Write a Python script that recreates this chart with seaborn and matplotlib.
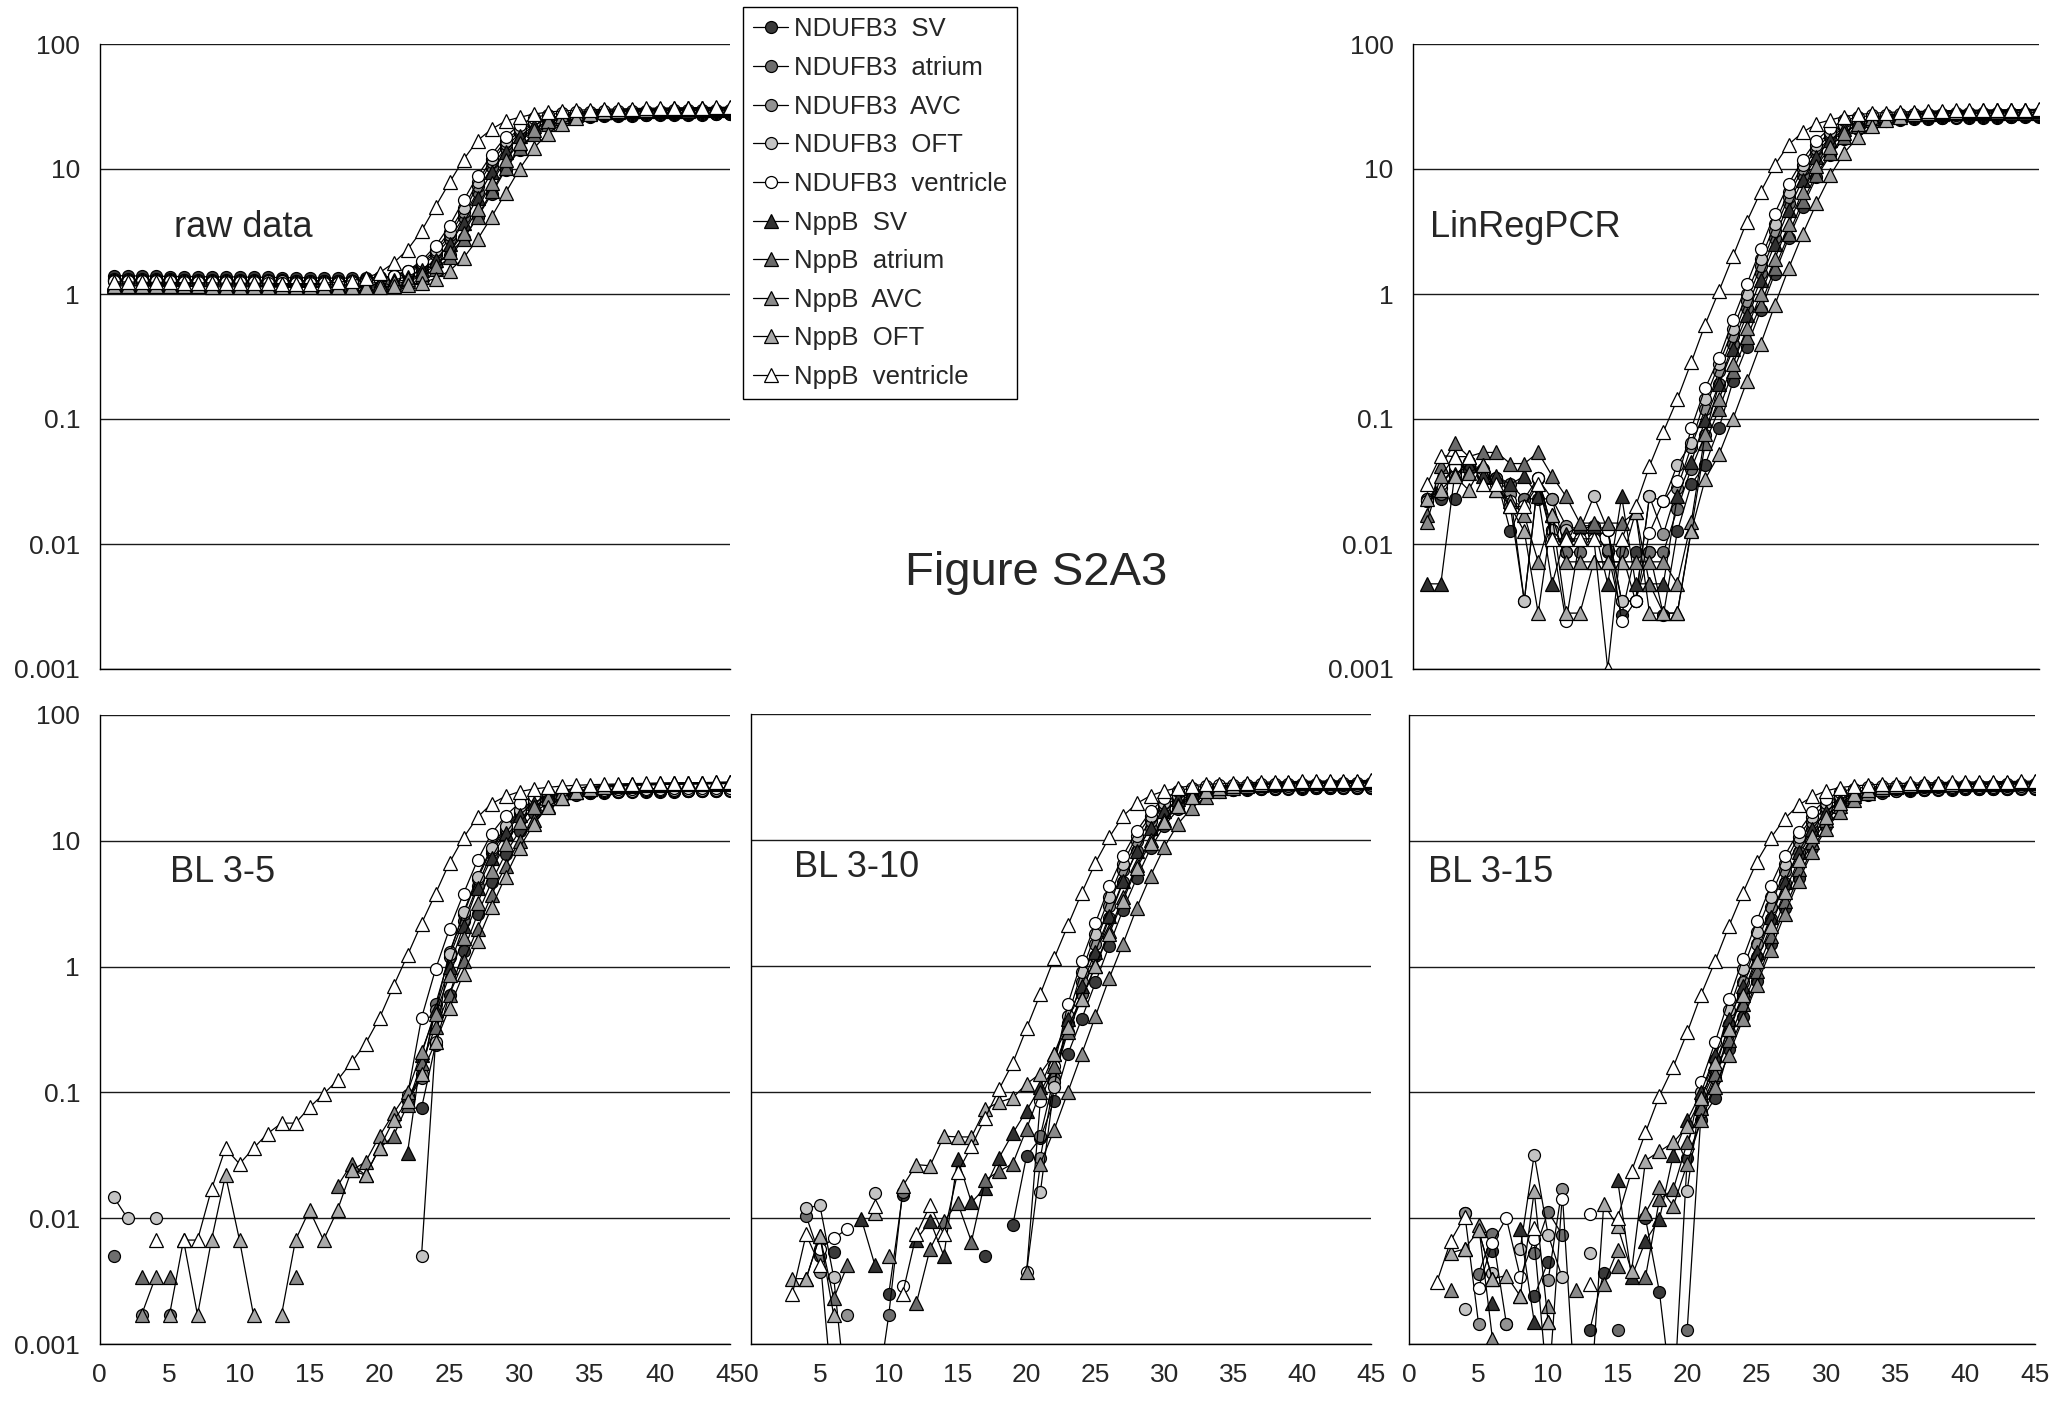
import numpy as np
import pandas as pd
import matplotlib
matplotlib.use("Agg")
import matplotlib.pyplot as plt
from matplotlib.lines import Line2D
import seaborn as sns

N = None
CYCLES = list(range(1, 46))
SERIES_LABELS = ["NDUFB3  SV", "NDUFB3  atrium", "NDUFB3  AVC", "NDUFB3  OFT", "NDUFB3  ventricle",
                 "NppB  SV", "NppB  atrium", "NppB  AVC", "NppB  OFT", "NppB  ventricle"]
PANEL_LABELS = ["raw data", "LinRegPCR", "BL 3-5", "BL 3-10", "BL 3-15"]
FIG_TITLE = "Figure S2A3"
Y_TICKS = [0.001, 0.01, 0.1, 1, 10, 100]
Y_TICK_LABELS = ["0.001", "0.01", "0.1", "1", "10", "100"]
X_TICKS = [0, 5, 10, 15, 20, 25, 30, 35, 40, 45]

# ---------------- raw data ----------------
RAW_NDUFB3_SV = [1.40,1.40,1.39,1.39,1.38,1.38,1.38,1.37,1.37,1.37,
                 1.36,1.36,1.35,1.35,1.35,1.34,1.34,1.34,1.35,1.36,
                 1.38,1.42,1.53,1.72,2.07,2.8,4.1,6.3,9.9,14.3,
                 18.8,22.3,24.3,25.5,26.1,26.4,26.6,26.7,26.8,26.9,
                 27.0,27.1,27.2,27.3,27.3]
RAW_NDUFB3_atrium = [1.32,1.32,1.31,1.31,1.31,1.30,1.30,1.30,1.30,1.29,
                     1.29,1.29,1.29,1.28,1.28,1.28,1.28,1.28,1.30,1.32,
                     1.36,1.47,1.68,2.05,2.75,4.1,6.6,10.3,14.8,19.3,
                     22.8,24.8,25.8,26.3,26.6,26.8,27.0,27.1,27.2,27.3,
                     27.4,27.5,27.6,27.7,27.7]
RAW_NDUFB3_AVC = [1.30,1.30,1.30,1.29,1.29,1.29,1.28,1.28,1.28,1.28,
                  1.28,1.27,1.27,1.27,1.27,1.27,1.27,1.28,1.30,1.33,
                  1.39,1.51,1.73,2.15,2.94,4.5,7.3,11.3,15.8,20.3,
                  23.3,25.3,26.3,26.8,27.1,27.3,27.4,27.5,27.6,27.7,
                  27.8,27.9,28.0,28.1,28.1]
RAW_NDUFB3_OFT = [1.28,1.28,1.28,1.27,1.27,1.27,1.27,1.26,1.26,1.26,
                  1.26,1.26,1.26,1.25,1.25,1.25,1.25,1.27,1.29,1.32,
                  1.40,1.53,1.78,2.25,3.15,4.85,7.85,12.0,16.8,21.0,
                  23.8,25.6,26.6,27.3,27.6,27.8,27.9,28.0,28.1,28.2,
                  28.3,28.4,28.5,28.6,28.6]
RAW_NDUFB3_ventricle = [1.27,1.27,1.26,1.26,1.26,1.25,1.25,1.25,1.24,1.24,
                        1.24,1.23,1.23,1.23,1.22,1.22,1.23,1.24,1.26,1.30,
                        1.40,1.53,1.84,2.42,3.52,5.6,8.8,13.0,18.1,22.6,
                        25.7,27.2,28.0,28.4,28.7,28.9,29.0,29.1,29.2,29.3,
                        29.4,29.5,29.6,29.7,29.7]
RAW_NppB_SV = [1.22,1.22,1.22,1.21,1.21,1.21,1.21,1.20,1.20,1.20,
               1.20,1.20,1.19,1.19,1.19,1.19,1.19,1.20,1.21,1.24,
               1.29,1.38,1.55,1.87,2.5,3.7,5.9,9.4,13.7,18.2,
               22.2,25.2,26.7,27.7,28.2,28.5,28.7,28.9,29.0,29.1,
               29.2,29.3,29.4,29.5,29.5]
RAW_NppB_atrium = [1.18,1.18,1.17,1.17,1.17,1.17,1.16,1.16,1.16,1.16,
                   1.15,1.15,1.15,1.15,1.15,1.14,1.14,1.14,1.15,1.17,
                   1.20,1.26,1.38,1.59,1.96,2.74,4.14,6.64,10.1,14.6,
                   19.1,23.1,25.6,27.2,28.2,28.7,29.0,29.2,29.4,29.6,
                   29.8,30.0,30.1,30.2,30.3]
RAW_NppB_AVC = [1.20,1.20,1.20,1.19,1.19,1.19,1.18,1.18,1.18,1.18,
                1.17,1.17,1.17,1.17,1.16,1.16,1.16,1.17,1.18,1.20,
                1.24,1.31,1.44,1.69,2.16,3.06,4.76,7.76,11.7,16.2,
                20.7,24.2,26.7,28.2,29.0,29.4,29.7,29.9,30.1,30.3,
                30.5,30.6,30.7,30.8,30.9]
RAW_NppB_OFT = [1.16,1.16,1.16,1.15,1.15,1.15,1.15,1.14,1.14,1.14,
                1.14,1.14,1.13,1.13,1.13,1.13,1.13,1.13,1.13,1.14,
                1.16,1.18,1.23,1.33,1.53,1.94,2.73,4.13,6.43,10.0,
                14.6,19.1,23.1,25.6,27.4,28.4,29.1,29.5,29.8,30.1,
                30.3,30.5,30.6,30.7,30.8]
RAW_NppB_ventricle = [1.25,1.25,1.24,1.24,1.24,1.23,1.23,1.23,1.22,1.22,
                      1.22,1.22,1.21,1.21,1.21,1.22,1.24,1.28,1.34,1.48,
                      1.77,2.26,3.2,5.0,7.8,11.9,16.9,20.8,24.2,25.9,
                      27.5,28.5,29.1,29.5,29.8,30.0,30.2,30.4,30.6,30.7,
                      30.8,30.9,31.0,31.1,31.2]

# ---------------- LinRegPCR ----------------
LR_NDUFB3_SV = [N,0.023,0.023,0.043,0.040,0.034,0.0126,0.023,0.023,0.023,
                0.0086,0.013,0.013,0.0086,0.0027,0.0086,0.0086,0.0027,0.0126,0.030,
                0.043,0.085,0.20,0.38,0.74,1.45,2.8,5.0,8.6,13.0,
                17.5,21.0,23.0,24.2,24.8,25.1,25.3,25.4,25.5,25.6,
                25.7,25.8,25.9,26.0,26.0]
LR_NDUFB3_atrium = [0.023,0.025,0.037,0.045,0.035,0.033,0.030,0.023,0.034,0.013,
                    0.0086,0.0086,0.012,0.009,0.0086,0.0035,0.0086,0.0086,0.019,0.040,
                    0.075,0.19,0.40,0.77,1.47,2.8,5.3,9.0,13.5,18.0,
                    21.5,23.5,24.5,25.0,25.3,25.5,25.7,25.8,25.9,26.0,
                    26.1,26.2,26.3,26.4,26.4]
LR_NDUFB3_AVC = [0.023,0.030,0.040,0.043,0.036,0.034,0.025,0.0035,0.033,0.023,
                 0.014,0.013,0.014,0.013,0.0035,0.0035,0.024,0.012,0.028,0.060,
                 0.12,0.24,0.46,0.88,1.67,3.2,6.0,10.0,14.5,19.0,
                 22.0,24.0,25.0,25.5,25.8,26.0,26.1,26.2,26.3,26.4,
                 26.5,26.6,26.7,26.8,26.8]
LR_NDUFB3_OFT = [0.022,0.028,0.035,0.043,0.036,0.030,0.020,0.0035,0.034,0.013,
                 0.013,0.013,0.024,0.013,0.0035,0.0035,0.024,0.022,0.043,0.064,
                 0.145,0.275,0.525,1.0,1.9,3.6,6.6,10.8,15.5,19.8,
                 22.5,24.3,25.3,26.0,26.3,26.5,26.6,26.7,26.8,26.9,
                 27.0,27.0,27.1,27.2,27.2]
LR_NDUFB3_ventricle = [0.022,0.030,0.042,0.040,0.036,0.030,0.022,0.020,0.034,0.011,
                       0.0024,0.011,0.011,0.013,0.0024,0.0035,0.0123,0.022,0.032,0.084,
                       0.176,0.306,0.62,1.2,2.3,4.4,7.6,11.8,16.9,21.4,
                       24.5,26.0,26.8,27.2,27.4,27.5,27.6,27.7,27.8,27.9,
                       28.0,28.0,28.1,28.2,28.2]
LR_NppB_SV = [0.0048,0.0048,0.036,0.043,0.035,0.035,0.030,0.035,0.024,0.0048,
              0.012,0.014,0.014,0.0048,0.024,0.0048,0.0048,0.0048,0.024,0.045,
              0.098,0.19,0.36,0.68,1.3,2.5,4.7,8.2,12.5,17.0,
              21.0,24.0,25.5,26.5,27.0,27.3,27.5,27.7,27.8,27.9,
              28.0,28.1,28.2,28.3,28.3]
LR_NppB_atrium = [0.017,0.042,0.064,0.050,0.054,0.054,0.044,0.044,0.054,0.035,
                  0.024,0.0147,0.0147,0.0147,0.0147,0.018,0.0048,0.0028,0.0028,0.013,
                  0.064,0.12,0.24,0.45,0.82,1.6,3.0,5.5,9.0,13.5,
                  18.0,22.0,24.5,26.0,27.0,27.5,27.8,28.0,28.2,28.4,
                  28.6,28.8,29.0,29.1,29.2]
LR_NppB_AVC = [0.015,0.035,0.050,0.037,0.043,0.027,0.022,0.017,0.0072,0.017,
               0.0072,0.0072,0.0072,0.0072,0.0072,0.0072,0.0072,0.0072,0.0048,0.015,
               0.076,0.145,0.275,0.53,1.0,1.9,3.6,6.6,10.5,15.0,
               19.5,23.0,25.5,27.0,27.8,28.3,28.6,28.8,29.0,29.2,
               29.4,29.5,29.6,29.7,29.8]
LR_NppB_OFT = [0.023,0.027,0.035,0.027,0.043,0.027,0.020,0.0126,0.0028,0.017,
               0.0028,0.0028,0.0072,0.0072,0.0072,0.018,0.0028,0.0028,0.0028,0.0126,
               0.033,0.052,0.10,0.20,0.40,0.81,1.6,3.0,5.3,8.9,
               13.5,18.0,22.0,24.5,26.3,27.3,28.0,28.4,28.7,29.0,
               29.2,29.4,29.5,29.6,29.7]
LR_NppB_ventricle = [0.030,0.051,0.050,0.050,0.030,0.030,0.020,0.020,0.030,0.011,
                     0.011,0.011,0.011,0.001,0.011,0.020,0.042,0.079,0.144,0.284,
                     0.57,1.06,2.0,3.8,6.6,10.7,15.7,19.6,23.0,24.7,
                     26.3,27.3,27.9,28.3,28.6,28.8,29.0,29.2,29.4,29.5,
                     29.6,29.7,29.8,29.9,30.0]

# ---------------- BL 3-5 ----------------
B5_NDUFB3_SV = [N,N,N,N,N,N,N,N,N,N,
                N,N,N,N,N,N,N,N,N,N,
                N,N,0.075,0.24,0.6,1.33,2.6,4.7,7.9,12.0,
                16.5,20.0,22.0,23.2,23.8,24.1,24.3,24.4,24.5,24.6,
                24.6,24.7,24.7,24.8,24.8]
B5_NDUFB3_atrium = [0.005,N,N,N,0.0017,N,N,N,N,N,
                    N,N,N,N,N,N,N,N,N,N,
                    N,0.085,0.13,0.5,1.2,2.3,4.4,8.0,12.0,16.5,
                    20.0,22.0,23.2,23.8,24.2,24.4,24.6,24.7,24.8,24.9,
                    25.0,25.0,25.1,25.1,25.2]
B5_NDUFB3_AVC = [N,N,0.0017,N,N,N,N,N,N,N,
                 N,N,N,N,N,N,N,N,N,N,
                 N,0.09,0.14,0.45,1.3,2.6,5.0,8.5,12.5,17.0,
                 20.5,22.5,23.5,24.0,24.3,24.5,24.7,24.8,24.9,25.0,
                 25.1,25.1,25.2,25.2,25.3]
B5_NDUFB3_OFT = [0.0148,0.01,N,0.01,N,N,N,N,N,N,
                 N,N,N,N,N,N,N,N,N,N,
                 N,N,0.005,0.25,1.25,2.7,5.2,8.8,13.0,17.5,
                 21.0,23.0,24.0,24.5,24.7,24.9,25.0,25.1,25.2,25.3,
                 25.3,25.4,25.4,25.5,25.5]
B5_NDUFB3_ventricle = [N,N,N,N,N,N,N,N,N,N,
                       N,N,N,N,N,N,N,N,N,N,
                       N,0.095,0.39,0.95,2.0,3.8,7.0,11.4,15.8,20.0,
                       22.5,23.8,24.5,25.0,25.3,25.5,25.7,25.8,25.9,26.0,
                       26.1,26.2,26.3,26.3,26.4]
B5_NppB_SV = [N,N,N,N,N,N,N,N,N,N,
              N,N,N,N,N,N,N,N,N,N,
              N,0.033,0.2,0.45,1.0,2.1,4.2,7.3,11.5,16.0,
              20.0,23.0,25.0,26.2,26.8,27.2,27.5,27.7,27.9,28.0,
              28.1,28.2,28.3,28.4,28.5]
B5_NppB_atrium = [N,N,0.0034,N,0.0034,N,N,N,N,N,
                  N,N,N,N,N,N,0.018,0.027,0.022,0.036,
                  0.045,0.08,0.17,0.33,0.6,1.1,2.0,3.7,6.3,10.0,
                  14.5,19.0,22.0,24.5,25.8,26.6,27.1,27.5,27.8,28.0,
                  28.2,28.4,28.5,28.6,28.7]
B5_NppB_AVC = [N,N,0.0017,0.0034,N,N,N,N,N,N,
               N,N,N,0.0034,N,N,N,0.024,0.028,0.045,
               0.068,0.1,0.21,0.42,0.85,1.7,3.2,5.8,9.5,14.0,
               18.5,22.0,24.5,26.0,27.0,27.6,28.0,28.3,28.5,28.7,
               28.8,28.9,29.0,29.1,29.2]
B5_NppB_OFT = [N,N,N,N,0.0017,0.0067,0.0017,0.0067,0.022,0.0067,
               0.0017,N,0.0017,0.0067,0.0116,0.0067,0.0116,0.024,0.022,0.036,
               0.06,0.085,0.14,0.25,0.47,0.88,1.6,2.95,5.2,8.8,
               13.5,18.5,22.0,24.5,26.0,27.0,27.6,28.0,28.3,28.5,
               28.7,28.8,28.9,29.0,29.1]
B5_NppB_ventricle = [N,N,N,0.0067,N,0.0067,0.0067,0.017,0.036,0.027,
                     0.036,0.047,0.057,0.057,0.076,0.097,0.125,0.174,0.244,0.39,
                     0.70,1.23,2.2,3.8,6.7,10.6,15.4,19.7,22.6,24.6,
                     25.8,26.6,27.2,27.6,27.9,28.1,28.3,28.5,28.6,28.7,
                     28.8,28.9,29.0,29.1,29.2]

# ---------------- BL 3-10 ----------------
B10_NDUFB3_SV = [N,N,N,N,N,0.0054,N,N,N,0.0025,
                 0.0153,N,N,N,N,N,0.005,N,0.0088,0.031,
                 0.043,0.085,0.2,0.38,0.74,1.45,2.8,5.0,8.6,13.0,
                 17.5,21.0,23.0,24.2,24.8,25.1,25.3,25.4,25.5,25.6,
                 25.7,25.8,25.9,26.0,26.0]
B10_NDUFB3_atrium = [N,N,N,0.0104,0.005,0.0003,N,N,0.0003,0.0017,
                     0.016,N,N,N,N,N,N,N,N,N,
                     0.045,0.13,0.3,0.6,1.2,2.4,4.6,8.2,12.5,17.0,
                     20.5,23.0,24.2,24.8,25.1,25.3,25.5,25.6,25.7,25.8,
                     25.9,26.0,26.0,26.1,26.1]
B10_NDUFB3_AVC = [N,N,N,N,0.0037,N,0.0017,N,N,N,
                  N,N,N,N,N,N,N,N,N,N,
                  0.03,0.12,0.35,0.75,1.5,3.0,5.8,9.8,14.2,18.7,
                  21.8,23.8,24.8,25.3,25.6,25.8,25.9,26.0,26.1,26.2,
                  26.3,26.4,26.4,26.5,26.5]
B10_NDUFB3_OFT = [N,N,N,0.012,0.0126,0.0034,0.0003,N,0.0158,N,
                  N,N,N,N,N,N,N,N,N,N,
                  0.016,0.11,0.4,0.9,1.8,3.5,6.5,10.8,15.5,19.8,
                  22.5,24.3,25.3,26.0,26.3,26.5,26.6,26.7,26.8,26.9,
                  27.0,27.0,27.1,27.2,27.2]
B10_NDUFB3_ventricle = [N,N,N,N,0.0057,0.0069,0.0082,N,N,N,
                        0.0029,N,N,N,N,N,N,N,N,0.0037,
                        0.085,0.16,0.5,1.1,2.2,4.3,7.5,11.8,16.9,21.4,
                        24.5,26.0,26.8,27.2,27.4,27.5,27.6,27.7,27.8,27.9,
                        28.0,28.0,28.1,28.2,28.2]
B10_NppB_SV = [N,N,N,N,N,N,N,0.0099,0.0042,N,
               N,0.0067,0.0095,0.005,0.0296,0.0133,0.0174,0.03,0.047,0.071,
               0.11,0.2,0.38,0.7,1.3,2.5,4.7,8.2,12.5,17.0,
               21.0,24.0,25.8,26.8,27.3,27.6,27.8,28.0,28.1,28.2,
               28.3,28.4,28.5,28.6,28.7]
B10_NppB_atrium = [N,N,N,0.0033,0.0072,0.0023,0.0042,N,N,N,
                   N,0.0021,0.0057,0.0094,0.0132,0.0065,0.02,0.0235,0.027,0.051,
                   0.1,0.16,0.3,0.55,1.0,1.9,3.5,6.3,10.0,14.5,
                   19.0,22.5,25.0,26.3,27.0,27.5,27.9,28.2,28.4,28.6,
                   28.7,28.8,28.9,29.0,29.1]
B10_NppB_AVC = [N,N,N,N,N,N,N,N,N,0.005,
                N,N,N,N,N,N,N,N,N,0.0037,
                0.027,0.05,0.1,0.2,0.4,0.8,1.5,2.9,5.2,8.8,
                13.5,18.0,22.0,24.5,26.0,26.9,27.5,27.9,28.2,28.4,
                28.6,28.7,28.8,28.9,29.0]
B10_NppB_OFT = [N,N,0.0033,0.0033,0.0072,0.0017,N,N,0.011,N,
                0.0178,0.0265,0.026,0.0446,0.044,0.044,0.073,0.083,0.09,0.116,
                0.14,0.2,0.33,0.55,1.0,1.8,3.3,6.0,9.5,14.0,
                18.5,22.0,24.5,26.0,27.0,27.6,28.0,28.3,28.5,28.7,
                28.8,28.9,29.0,29.1,29.2]
B10_NppB_ventricle = [N,N,0.0025,0.0074,0.0042,N,N,N,0.0125,N,
                      0.0025,0.0074,0.0126,0.0074,0.023,0.037,0.0625,0.105,0.17,0.32,
                      0.6,1.15,2.1,3.8,6.6,10.5,15.5,19.5,22.5,24.5,
                      26.0,27.0,27.6,28.0,28.3,28.5,28.7,28.9,29.0,29.2,
                      29.3,29.4,29.5,29.6,29.7]

# ---------------- BL 3-15 ----------------
B15_NDUFB3_SV = [N,N,N,0.011,N,0.0055,N,N,0.0024,0.0045,
                 N,N,0.0013,0.0037,N,N,0.01,0.0026,0.0003,0.03,
                 0.06,0.09,0.22,0.4,0.77,1.5,2.9,5.1,8.7,13.0,
                 17.5,21.0,23.0,24.2,24.8,25.1,25.3,25.4,25.5,25.6,
                 25.7,25.8,25.9,26.0,26.0]
B15_NDUFB3_atrium = [N,N,N,N,0.0036,0.0075,0.00145,N,0.0053,0.0113,
                     0.0074,N,N,N,0.0013,N,N,N,N,0.0013,
                     0.07,0.13,0.3,0.6,1.2,2.4,4.6,8.2,12.5,17.0,
                     20.5,23.0,24.2,24.8,25.1,25.3,25.5,25.6,25.7,25.8,
                     25.9,26.0,26.0,26.1,26.1]
B15_NDUFB3_AVC = [N,N,N,0.011,0.00145,N,0.00145,N,N,0.0032,
                  0.0172,0.0003,N,N,N,N,N,N,N,N,
                  0.085,0.15,0.35,0.75,1.5,3.0,5.8,9.8,14.2,18.7,
                  21.8,23.8,24.8,25.3,25.6,25.8,25.9,26.0,26.1,26.2,
                  26.3,26.4,26.4,26.5,26.5]
B15_NDUFB3_OFT = [N,N,N,0.0019,N,0.0037,N,0.0057,0.032,0.0074,
                  0.0034,N,0.0053,N,N,N,N,N,N,0.0166,
                  0.1,0.18,0.45,0.95,1.9,3.6,6.6,10.8,15.5,19.8,
                  22.5,24.3,25.3,26.0,26.3,26.5,26.6,26.7,26.8,26.9,
                  27.0,27.0,27.1,27.2,27.2]
B15_NDUFB3_ventricle = [N,N,N,N,0.0028,0.0064,0.01,0.0034,0.0068,0.0004,
                        0.0141,N,0.0108,N,N,N,N,N,N,0.0357,
                        0.12,0.25,0.55,1.15,2.3,4.4,7.6,11.8,16.9,21.4,
                        24.5,26.0,26.8,27.2,27.4,27.5,27.6,27.7,27.8,27.9,
                        28.0,28.0,28.1,28.2,28.2]
B15_NppB_SV = [N,N,N,0.0057,N,0.0021,N,0.0082,0.0015,N,
               N,N,N,N,0.02,0.0034,0.0066,0.0098,0.032,0.06,
               0.1,0.2,0.38,0.7,1.3,2.5,4.7,8.2,12.5,17.0,
               21.0,24.0,25.8,26.8,27.3,27.6,27.8,28.0,28.1,28.2,
               28.3,28.4,28.5,28.6,28.7]
B15_NppB_atrium = [N,N,N,N,0.008,0.0033,N,0.0024,N,0.0015,
                   N,N,N,N,0.0042,N,0.0034,0.0141,0.017,0.04,
                   0.075,0.14,0.26,0.5,0.92,1.75,3.3,6.0,9.8,14.5,
                   19.0,22.5,25.0,26.3,27.1,27.6,27.9,28.2,28.4,28.6,
                   28.7,28.8,28.9,29.0,29.1]
B15_NppB_AVC = [N,N,0.0027,N,0.0089,0.0011,N,N,N,0.002,
                N,0.0027,N,0.003,0.0056,N,0.011,0.0177,0.0125,0.027,
                0.06,0.11,0.2,0.38,0.72,1.35,2.6,4.8,8.2,12.5,
                17.0,21.0,24.0,25.8,26.8,27.4,27.8,28.1,28.3,28.5,
                28.6,28.7,28.8,28.9,29.0]
B15_NppB_OFT = [N,N,0.0053,0.0057,0.008,0.0033,0.0035,0.0024,0.0164,0.0015,
                N,N,0.0003,0.013,0.0086,0.0038,0.0287,0.034,0.04,0.0536,
                0.09,0.17,0.32,0.6,1.1,2.1,3.9,7.0,11.0,15.5,
                20.0,23.5,25.5,26.7,27.4,27.8,28.1,28.3,28.5,28.7,
                28.8,28.9,29.0,29.1,29.2]
B15_NppB_ventricle = [N,0.0031,0.0066,0.0103,N,N,N,N,0.0084,N,
                      N,N,0.003,N,0.01,0.0237,0.048,0.094,0.16,0.3,
                      0.6,1.1,2.1,3.85,6.8,10.5,15.0,19.2,22.5,25.0,
                      26.5,27.3,27.8,28.2,28.5,28.7,28.9,29.0,29.2,29.3,
                      29.4,29.5,29.6,29.7,29.8]

PANELS = [
    [RAW_NDUFB3_SV, RAW_NDUFB3_atrium, RAW_NDUFB3_AVC, RAW_NDUFB3_OFT, RAW_NDUFB3_ventricle,
     RAW_NppB_SV, RAW_NppB_atrium, RAW_NppB_AVC, RAW_NppB_OFT, RAW_NppB_ventricle],
    [LR_NDUFB3_SV, LR_NDUFB3_atrium, LR_NDUFB3_AVC, LR_NDUFB3_OFT, LR_NDUFB3_ventricle,
     LR_NppB_SV, LR_NppB_atrium, LR_NppB_AVC, LR_NppB_OFT, LR_NppB_ventricle],
    [B5_NDUFB3_SV, B5_NDUFB3_atrium, B5_NDUFB3_AVC, B5_NDUFB3_OFT, B5_NDUFB3_ventricle,
     B5_NppB_SV, B5_NppB_atrium, B5_NppB_AVC, B5_NppB_OFT, B5_NppB_ventricle],
    [B10_NDUFB3_SV, B10_NDUFB3_atrium, B10_NDUFB3_AVC, B10_NDUFB3_OFT, B10_NDUFB3_ventricle,
     B10_NppB_SV, B10_NppB_atrium, B10_NppB_AVC, B10_NppB_OFT, B10_NppB_ventricle],
    [B15_NDUFB3_SV, B15_NDUFB3_atrium, B15_NDUFB3_AVC, B15_NDUFB3_OFT, B15_NDUFB3_ventricle,
     B15_NppB_SV, B15_NppB_atrium, B15_NppB_AVC, B15_NppB_OFT, B15_NppB_ventricle],
]

# styles
MARKERS = ["o"] * 5 + ["^"] * 5
FACES = ["#3a3a3a", "#6e6e6e", "#929292", "#c4c4c4", "#ffffff",
         "#303030", "#6a6a6a", "#8a8a8a", "#aaaaaa", "#ffffff"]
MSIZE = {"o": 8.6, "^": 9.6}
LW = 0.9

sns.set_style("white")
plt.rcParams["font.family"] = ["Liberation Sans", "DejaVu Sans"]

W, H = 2056, 1406
fig = plt.figure(figsize=(W / 100, H / 100), dpi=100)


def box(l, t, r, b):
    return [l / W, 1 - b / H, (r - l) / W, (b - t) / H]


AX_BOXES = [box(99.5, 44, 729.5, 669), box(1413, 44, 2039, 669),
            box(99.5, 715, 729.5, 1344), box(751, 714, 1371, 1344),
            box(1409, 715, 2035, 1344)]
LABEL_POS = [(0.118, 0.707), (0.027, 0.707), (0.112, 0.75), (0.069, 0.757), (0.03, 0.75)]

for p, (pbox, series_list) in enumerate(zip(AX_BOXES, PANELS)):
    ax = fig.add_axes(pbox)
    ax.set_yscale("log")
    for i, vals in enumerate(series_list):
        s = pd.Series(vals, dtype=float)
        df = pd.DataFrame({"cycle": CYCLES, "value": s.values, "seg": s.isna().cumsum().values})
        df = df.dropna()
        m = MARKERS[i]
        sns.lineplot(data=df, x="cycle", y="value", units="seg", estimator=None, ax=ax,
                     color="black", linewidth=LW, marker=m, markersize=MSIZE[m],
                     markerfacecolor=FACES[i], markeredgecolor="black", markeredgewidth=0.9,
                     legend=False)
    ax.set_xlim(0, 45)
    ax.set_ylim(0.001, 100)
    ax.set_xticks(X_TICKS)
    ax.set_yticks(Y_TICKS)
    ax.set_yticklabels(Y_TICK_LABELS)
    ax.minorticks_off()
    ax.yaxis.set_minor_locator(matplotlib.ticker.NullLocator())
    ax.set_xlabel("")
    ax.set_ylabel("")
    ax.grid(axis="y", which="major", color="#1a1a1a", linewidth=1.0)
    ax.grid(axis="x", visible=False)
    ax.set_axisbelow(True)
    for sp in ["top", "right"]:
        ax.spines[sp].set_visible(False)
    for sp in ["left", "bottom"]:
        ax.spines[sp].set_color("black")
        ax.spines[sp].set_linewidth(1.0)
    ax.tick_params(axis="both", which="major", direction="out", length=6, width=1,
                   color="black", labelsize=19, pad=8)
    if p < 2:
        ax.tick_params(axis="x", labelbottom=False)
    if p in (3, 4):
        ax.tick_params(axis="y", labelleft=False)
    ax.text(LABEL_POS[p][0], LABEL_POS[p][1], PANEL_LABELS[p], transform=ax.transAxes,
            fontsize=26, ha="left", va="center")

fig.text(1036 / W, 1 - 573 / H, FIG_TITLE, ha="center", va="center", fontsize=34)

handles = [Line2D([0], [0], color="black", lw=LW, marker=MARKERS[i], markersize=MSIZE[MARKERS[i]],
                  markerfacecolor=FACES[i], markeredgecolor="black", markeredgewidth=0.9)
           for i in range(10)]
leg = fig.legend(handles, SERIES_LABELS, loc="upper left", bbox_to_anchor=(743 / W, 1 - 7 / H),
                 bbox_transform=fig.transFigure, frameon=True, fancybox=False, edgecolor="black",
                 framealpha=1, fontsize=18.5, handlelength=1.35, handletextpad=0.22,
                 labelspacing=0.57, borderpad=0.4, borderaxespad=0)
leg.get_frame().set_linewidth(1.0)

fig.savefig("out.png", dpi=100, facecolor="white")
